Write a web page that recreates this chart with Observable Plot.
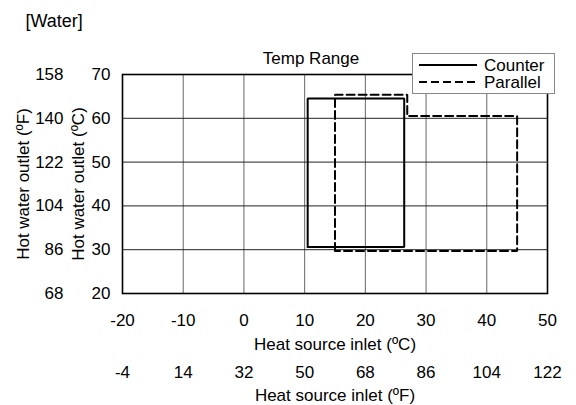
<!DOCTYPE html>
<html>
<head>
<meta charset="utf-8">
<script src="https://cdn.jsdelivr.net/npm/d3@7"></script>
<script src="https://cdn.jsdelivr.net/npm/@observablehq/plot@0.6"></script>
<style>
  html, body { margin: 0; padding: 0; background: #fff; }
  #wrap { position: relative; width: 576px; height: 405px; font-family: "Liberation Sans", Arial, sans-serif; }
  #legend { position: absolute; left: 412px; top: 53px; }
</style>
</head>
<body>
<div id="wrap"></div>
<script>
// ---- data ----
const xTicksC = [-20, -10, 0, 10, 20, 30, 40, 50];
const xTicksF = [-4, 14, 32, 50, 68, 86, 104, 122];
const yTicksC = [20, 30, 40, 50, 60, 70];
const yTicksF = [68, 86, 104, 122, 140, 158];

const counterX = [10.5, 10.5, 26.4, 26.4, 10.5];
const counterY = [30.6, 64.5, 64.5, 30.6, 30.6];
const parallelX = [15, 15, 26.9, 26.9, 45, 45, 15];
const parallelY = [29.7, 65.4, 65.4, 60.5, 60.5, 29.7, 29.7];

const seriesNames = ["Counter", "Parallel"];
const titleText = "Temp Range";
const headText = "[Water]";
const xTitleC = "Heat source inlet (ºC)";
const xTitleF = "Heat source inlet (ºF)";
const yTitleC = "Hot water outlet (ºC)";
const yTitleF = "Hot water outlet (ºF)";

const counter = counterX.map((x, i) => ({x, y: counterY[i]}));
const parallel = parallelX.map((x, i) => ({x, y: parallelY[i]}));
const yMid = (d3.min(yTicksC) + d3.max(yTicksC)) / 2;

const chart = Plot.plot({
  width: 576,
  height: 405,
  marginLeft: 122,
  marginRight: 29,
  marginTop: 74,
  marginBottom: 112,
  style: {fontFamily: "'Liberation Sans', Arial, sans-serif", fontSize: "17px", color: "#000", background: "#fff"},
  x: {domain: [-20, 50]},
  y: {domain: [20, 70]},
  marks: [
    Plot.gridX(xTicksC, {stroke: "#666", strokeOpacity: 1, strokeWidth: 1}),
    Plot.gridY(yTicksC, {stroke: "#222", strokeOpacity: 1, strokeWidth: 1}),
    Plot.frame({stroke: "#000", strokeWidth: 1.6}),
    Plot.line(counter, {x: "x", y: "y", stroke: "#000", strokeWidth: 2, strokeLinejoin: "miter", strokeLinecap: "square"}),
    Plot.line(parallel, {x: "x", y: "y", stroke: "#000", strokeWidth: 2, strokeDasharray: "8,4", strokeLinejoin: "miter"}),
    Plot.axisY(yTicksC, {tickSize: 0, tickPadding: 12, label: null, tickFormat: d => String(d)}),
    Plot.text(yTicksC, {y: d => d, text: (d, i) => String(yTicksF[i]), frameAnchor: "left", textAnchor: "end", dx: -59}),
    Plot.text([yTitleF], {text: d => d, y: () => yMid, frameAnchor: "left", textAnchor: "middle", rotate: -90, dx: -99}),
    Plot.text([yTitleC], {text: d => d, y: () => yMid, frameAnchor: "left", textAnchor: "middle", rotate: -90, dx: -44}),
    Plot.axisX(xTicksC, {tickSize: 0, tickPadding: 20, label: null, tickFormat: d => String(d)}),
    Plot.text([xTitleC], {text: d => d, frameAnchor: "bottom", dy: 56}),
    Plot.text(xTicksC, {x: d => d, text: (d, i) => String(xTicksF[i]), frameAnchor: "bottom", dy: 84.5}),
    Plot.text([xTitleF], {text: d => d, frameAnchor: "bottom", dy: 107}),
    Plot.text([titleText], {text: d => d, frameAnchor: "top", dy: -23, dx: -24}),
    Plot.text([headText], {text: d => d, frameAnchor: "top-left", textAnchor: "start", dx: -97, dy: -60, fontSize: 18})
  ]
});

const wrap = document.getElementById("wrap");
wrap.appendChild(chart);

// legend
const lg = d3.create("svg").attr("id", "legend").attr("width", 143).attr("height", 41)
  .style("font-family", "'Liberation Sans', Arial, sans-serif").style("font-size", "17px");
lg.append("rect").attr("x", 0.5).attr("y", 0.5).attr("width", 142).attr("height", 40)
  .attr("fill", "#fff").attr("stroke", "#888").attr("stroke-width", 1);
const dashes = [null, "8,4"];
seriesNames.forEach((name, i) => {
  const yy = 12 + i * 17;
  lg.append("line").attr("x1", 7).attr("x2", 65).attr("y1", yy).attr("y2", yy)
    .attr("stroke", "#000").attr("stroke-width", 2).attr("stroke-dasharray", dashes[i]);
  lg.append("text").attr("x", 72).attr("y", yy).attr("dy", "0.35em").text(name);
});
wrap.appendChild(lg.node());
</script>
</body>
</html>
